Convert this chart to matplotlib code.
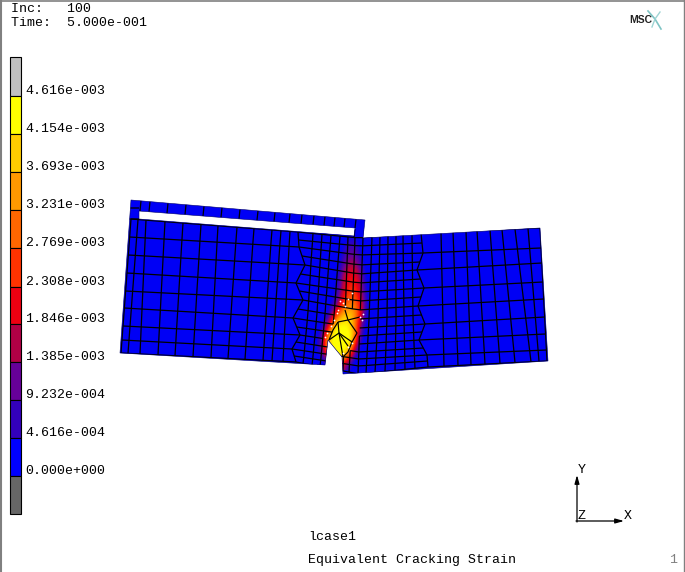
import numpy as np
import matplotlib
matplotlib.use("Agg")
import matplotlib.pyplot as plt
from matplotlib.collections import LineCollection
from matplotlib.colors import LinearSegmentedColormap
from matplotlib.patches import PathPatch
from matplotlib.path import Path

# ---------- legend ----------
legend_labels = ["4.616e-003", "4.154e-003", "3.693e-003", "3.231e-003", "2.769e-003", "2.308e-003",
                 "1.846e-003", "1.385e-003", "9.232e-004", "4.616e-004", "0.000e+000"]
legend_colors = ["#c0c0c0", "#ffff00", "#ffcc00", "#ff9900", "#ff6600", "#ff3300", "#ee0011",
                 "#b00045", "#660099", "#3300bb", "#0000ff", "#666666"]
legend_edges = [57, 96, 134, 172, 210, 248, 287, 324, 362, 400, 438, 476, 514]
cmap_levels = [0.0, 0.28, 0.70, 1.15, 1.60, 2.08, 2.55, 3.00, 3.46, 3.92, 4.40, 4.616]
cmap_colors = ["#0000f5", "#0000f5", "#3300bb", "#660099", "#b00045", "#ee0011", "#ff3300", "#ff6600",
               "#ff9900", "#ffcc00", "#ffff00", "#ffff00"]

# ---------- model outline (screen pixels) ----------
outline_x = [131, 365, 363, 540, 548, 343, 342, 328, 325, 120]
outline_y = [200, 220, 238, 228, 361, 374, 357, 340, 365, 353]
slot_x = [139, 139, 354, 355]
slot_y = [211, 219, 236, 228]

# ---------- left coarse mesh ----------
left_top_x = [131, 138, 146, 165, 183, 201, 218, 237, 254, 272, 281, 290]
left_bot_x = [121, 128, 140, 158, 175, 193, 211, 228, 245, 263, 272, 283]
left_edge_y = [219, 237, 255, 273, 291, 308, 326, 340, 353]
zig_left_x = [298, 299, 305, 296, 303, 293, 300, 292, 296]
zig_left_y = [232, 247, 265, 283, 300, 318, 335, 349, 362]

# ---------- central fine mesh ----------
fine_top_x = [313, 322, 331, 340, 348, 355, 363, 372, 380, 388, 396, 403, 412]
fine_mid_x = [308, 317, 325, 334, 345, 352, 360, 369, 378, 387, 396, 404, 413]
fine_bot_x = [303, 312, 320, 328, 343, 349, 358, 366, 375, 385, 395, 405, 415]
fine_rows_left = [232, 240, 247, 256, 265, 274, 283, 291, 300, 309, 318, 327, 335, 342, 349, 356, 362]
fine_rows_mid = [238, 246, 255, 265, 274, 283, 292, 301, 310, 319, 328, 336, 344, 352, 359, 366, 374]
fine_rows_right = [233, 243, 253, 262, 270, 279, 288, 297, 306, 315, 324, 332, 340, 348, 355, 361, 367]

# ---------- right coarse mesh ----------
zig_right_x = [421, 423, 417, 424, 418, 425, 419, 427, 428]
zig_right_y = [233, 253, 270, 288, 306, 324, 340, 355, 367]
right_top_x = [441, 453, 466, 477, 490, 502, 515, 528, 540]
right_bot_x = [444, 458, 471, 485, 500, 515, 531, 539, 547]
right_edge_y = [228, 248, 263, 282, 299, 317, 334, 350, 361]

# ---------- beam over the slot ----------
beam_top_x = [141, 150, 168, 186, 204, 222, 240, 258, 275, 290, 302, 314, 325, 335, 345, 356]
beam_left_y = [208, 219]

# ---------- crack-zone element edges ----------
crack_zone_x = [326, 336, 344, 362, 360, 354, 343]
crack_zone_y = [341, 320, 308, 315, 334, 346, 360]
crack_lines = [
    [(329, 340), (339, 333), (352, 342)],
    [(338, 322), (339, 333), (343, 357)],
    [(338, 322), (348, 320), (360, 317)],
    [(345, 310), (348, 320), (357, 333), (352, 342)],
    [(339, 333), (348, 346)],
    [(352, 342), (348, 352), (343, 357)],
    [(329, 340), (333, 330), (338, 322)],
]
crack_dot_x = [340, 343, 348, 338, 337, 327, 325, 352, 348, 343, 360, 363, 362, 334, 331, 345, 352]
crack_dot_y = [301, 303, 299, 310, 313, 333, 337, 343, 347, 353, 317, 314, 320, 320, 326, 306, 293]

# ---------- strain field, in units of 1e-3 ----------
field_x = [320, 325, 330, 335, 340, 345, 350, 355, 360, 365, 370]
field_y = [235, 245, 255, 265, 275, 285, 295, 305, 315, 325, 335, 345, 355, 365]
field_v = [
    [0, 0, 0, 0, 0, 0.05, 0.25, 0.3, 0.1, 0, 0],
    [0, 0, 0, 0, 0.05, 0.4, 0.8, 0.8, 0.3, 0, 0],
    [0, 0, 0, 0, 0.2, 0.7, 1.15, 1.1, 0.65, 0.1, 0],
    [0, 0, 0, 0, 0.4, 1.1, 1.6, 1.6, 1.1, 0.3, 0],
    [0, 0, 0, 0.1, 0.7, 1.8, 2.1, 2.1, 1.5, 0.5, 0],
    [0, 0, 0, 0.2, 0.9, 1.9, 2.3, 2.3, 1.8, 0.7, 0],
    [0, 0, 0, 0.4, 1.2, 2.2, 2.7, 2.7, 2.0, 0.9, 0.1],
    [0, 0, 0.2, 0.8, 1.9, 2.9, 3.3, 3.2, 2.4, 1.1, 0.1],
    [0, 0.1, 0.8, 2.2, 3.3, 3.8, 3.9, 3.5, 2.4, 1.0, 0.1],
    [0, 0.7, 2.2, 3.9, 4.4, 4.4, 4.2, 3.3, 1.8, 0.5, 0],
    [0.4, 2.0, 3.8, 4.6, 4.6, 4.6, 4.5, 3.6, 1.4, 0.2, 0],
    [0.6, 2.4, 4.2, 4.6, 4.6, 4.6, 4.4, 2.6, 0.6, 0, 0],
    [0.2, 1.5, 3.0, 4.2, 4.6, 4.2, 2.8, 0.8, 0.1, 0, 0],
    [0, 0.2, 0.6, 1.2, 1.8, 1.4, 0.5, 0, 0, 0, 0],
]

FONT = "Liberation Mono"
SIZE = 9.5
MESH = "#000000"
LW = 0.9

fig = plt.figure(figsize=(6.85, 5.72), dpi=100)
ax = fig.add_axes([0, 0, 1, 1])
ax.set_xlim(0, 685)
ax.set_ylim(572, 0)
ax.axis("off")

# ----- model base and clip -----
outer = list(zip(outline_x, outline_y))
hole = list(zip(slot_x, slot_y))
verts = outer + [outer[0]] + hole + [hole[0]]
codes = ([Path.MOVETO] + [Path.LINETO] * (len(outer) - 1) + [Path.CLOSEPOLY]
         + [Path.MOVETO] + [Path.LINETO] * (len(hole) - 1) + [Path.CLOSEPOLY])
model = Path(verts, codes)
patch = PathPatch(model, facecolor="#0000f5", edgecolor="none", zorder=1)
ax.add_patch(patch)

# ----- strain contour -----
stops = [(v / cmap_levels[-1], c) for v, c in zip(cmap_levels, cmap_colors)]
cmap = LinearSegmentedColormap.from_list("marc", stops, N=512)
dx = (field_x[1] - field_x[0]) / 2
dy = (field_y[1] - field_y[0]) / 2
im = ax.imshow(np.array(field_v), cmap=cmap, vmin=0, vmax=cmap_levels[-1], interpolation="bicubic",
               extent=(field_x[0] - dx, field_x[-1] + dx, field_y[-1] + dy, field_y[0] - dy),
               aspect="auto", zorder=2)
im.set_clip_path(patch)
ax.set_xlim(0, 685)
ax.set_ylim(572, 0)

# ----- mesh -----
segs = []
zone = Path(list(zip(crack_zone_x, crack_zone_y)) + [(crack_zone_x[0], crack_zone_y[0])])


def add_run(xs, ys):
    """Add one mesh line as polylines, leaving out the parts inside the crack zone."""
    run = [(xs[0], ys[0])]
    for k in range(1, len(xs)):
        if zone.contains_point(((xs[k - 1] + xs[k]) / 2, (ys[k - 1] + ys[k]) / 2)):
            if len(run) > 1:
                segs.append(np.array(run))
            run = [(xs[k], ys[k])]
        else:
            run.append((xs[k], ys[k]))
    if len(run) > 1:
        segs.append(np.array(run))


def add_grid(X, Y, skip_last_col=False, skip_first_col=False):
    X, Y = np.asarray(X), np.asarray(Y)
    for i in range(X.shape[0]):
        add_run(X[i], Y[i])
    for j in range(X.shape[1]):
        if (skip_first_col and j == 0) or (skip_last_col and j == X.shape[1] - 1):
            continue
        add_run(X[:, j], Y[:, j])


# left coarse block
nrow = len(left_edge_y)
vfrac = (np.array(left_edge_y) - left_edge_y[0]) / (left_edge_y[-1] - left_edge_y[0])
X = np.zeros((nrow, len(left_top_x) + 1))
Y = np.zeros_like(X)
for i in range(nrow):
    xs = np.array(left_top_x) * (1 - vfrac[i]) + np.array(left_bot_x) * vfrac[i]
    X[i, :-1] = xs
    X[i, -1] = zig_left_x[i]
    u = (xs - xs[0]) / (zig_left_x[i] - xs[0])
    Y[i, :-1] = left_edge_y[i] + u * (zig_left_y[i] - left_edge_y[i])
    Y[i, -1] = zig_left_y[i]
add_grid(X, Y)

# central fine block
stations = [fine_rows_mid[0], 320, fine_rows_mid[-1]]
nrow = len(fine_rows_mid)
X = np.zeros((nrow, len(fine_top_x) + 2))
Y = np.zeros_like(X)
for i in range(nrow):
    yl, ym, yr = fine_rows_left[i], fine_rows_mid[i], fine_rows_right[i]
    X[i, 0] = np.interp(yl, zig_left_y, zig_left_x)
    X[i, -1] = np.interp(yr, zig_right_y, zig_right_x)
    for j in range(len(fine_top_x)):
        X[i, j + 1] = np.interp(ym, stations, [fine_top_x[j], fine_mid_x[j], fine_bot_x[j]])
    Y[i] = np.interp(X[i], [X[i, 0], 359, X[i, -1]], [yl, ym, yr])
add_grid(X, Y, skip_first_col=True, skip_last_col=True)

# right coarse block
nrow = len(right_edge_y)
vfrac = (np.array(right_edge_y) - right_edge_y[0]) / (right_edge_y[-1] - right_edge_y[0])
X = np.zeros((nrow, len(right_top_x) + 1))
Y = np.zeros_like(X)
for i in range(nrow):
    xs = np.array(right_top_x) * (1 - vfrac[i]) + np.array(right_bot_x) * vfrac[i]
    X[i, 0] = zig_right_x[i]
    X[i, 1:] = xs
    u = (xs - zig_right_x[i]) / (xs[-1] - zig_right_x[i])
    Y[i, 0] = zig_right_y[i]
    Y[i, 1:] = zig_right_y[i] + u * (right_edge_y[i] - zig_right_y[i])
add_grid(X, Y)

# beam
for bx in beam_top_x:
    ty = np.interp(bx, [outline_x[0], outline_x[1]], [outline_y[0], outline_y[1]])
    by = np.interp(bx - 1, [slot_x[1], slot_x[2]], [slot_y[0], slot_y[3]])
    segs.append(np.array([[bx, ty], [bx - 1, by]]))
for by in beam_left_y:
    segs.append(np.array([[128, by], [139, by]]))
segs.append(np.array([[355, 229], [354, 237]]))

mesh = LineCollection(segs, colors=MESH, linewidths=LW, zorder=3)
mesh.set_snap(False)
ax.add_collection(mesh)
mesh.set_clip_path(patch)

crack = LineCollection([np.array(l) for l in crack_lines], colors="#000000", linewidths=0.85, zorder=4)
crack.set_snap(False)
ax.add_collection(crack)
ax.scatter(crack_dot_x, crack_dot_y, s=1.6, c="white", linewidths=0, zorder=5)

# outer edge
edge = PathPatch(model, facecolor="none", edgecolor="#00006a", linewidth=0.4, zorder=4, snap=False)
ax.add_patch(edge)

# ----- legend -----
for k, c in enumerate(legend_colors):
    ax.bar(15.5, legend_edges[k + 1] - legend_edges[k], bottom=legend_edges[k], width=11, color=c,
           edgecolor="black", linewidth=0.8, zorder=3)
for k, lab in enumerate(legend_labels):
    ax.text(25, legend_edges[k + 1] - 5, lab, family=FONT, fontsize=SIZE, va="center", ha="left", color="black")

# ----- texts -----
ax.text(11, 9.5, "Inc:   100", family=FONT, fontsize=SIZE, va="center", color="black")
ax.text(11, 22.5, "Time:  5.000e-001", family=FONT, fontsize=SIZE, va="center", color="black")
ax.text(308.5, 537, "lcase1", family=FONT, fontsize=SIZE, va="center", color="black")
ax.text(308, 560, "Equivalent Cracking Strain", family=FONT, fontsize=SIZE, va="center", color="black")
ax.text(673, 560, "1", family=FONT, fontsize=SIZE, va="center", ha="center", color="#808080")

# ----- axis triad -----
ax.annotate("", xy=(577, 475), xytext=(577, 522),
            arrowprops=dict(arrowstyle="-|>,head_length=0.5,head_width=0.14", color="black", lw=0.9, shrinkA=0, shrinkB=0))
ax.annotate("", xy=(624, 521), xytext=(576, 521),
            arrowprops=dict(arrowstyle="-|>,head_length=0.5,head_width=0.14", color="black", lw=0.9, shrinkA=0, shrinkB=0))
ax.text(582, 470, "Y", family=FONT, fontsize=SIZE, va="center", ha="center", color="black")
ax.text(582, 516, "Z", family=FONT, fontsize=SIZE, va="center", ha="center", color="black")
ax.text(628, 516, "X", family=FONT, fontsize=SIZE, va="center", ha="center", color="black")

# ----- logo -----
ax.text(641, 20, "MSC", family="Liberation Sans", fontsize=7.5, fontweight="bold", va="center", ha="center", color="#222222")
ax.plot([648, 655, 661], [11, 19, 29], color="#7fc4c4", lw=1.2, zorder=3)
ax.plot([652, 655, 660], [27, 19, 12], color="#9fd4d4", lw=1.0, zorder=3)

# ----- window border -----
ax.plot([0.7, 0.7], [0, 572], color="#808080", lw=1.5, clip_on=False)
ax.plot([0, 685], [0.5, 0.5], color="#808080", lw=1.2, clip_on=False)
ax.plot([684, 684], [0, 572], color="#808080", lw=1.0, clip_on=False)

fig.savefig("out.png", dpi=100)
